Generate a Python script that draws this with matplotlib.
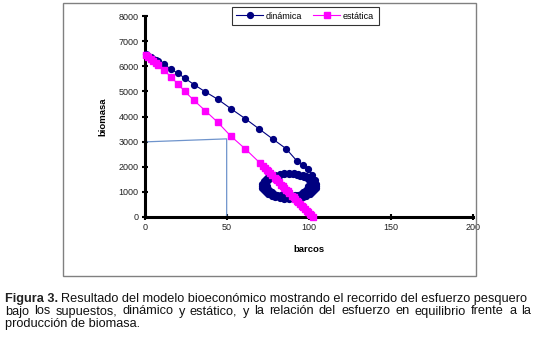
import matplotlib
matplotlib.use("Agg")
import matplotlib.pyplot as plt
from matplotlib.patches import Rectangle

plt.rcParams['font.family'] = ['Liberation Sans', 'DejaVu Sans']

# recorrido dinamico (barcos, biomasa)
din_barcos = [0.5, 2.0, 3.5, 5.0, 6.5, 8.1, 11.6, 15.9, 20.1, 24.4, 29.9, 36.6, 44.5, 52.4,
              61.0, 69.5, 78.0, 86.0, 92.5, 96.3, 99.4, 101.8, 103.7,
              # primera vuelta
              104.3, 104.05, 103.31, 102.09, 100.44, 98.41, 96.05, 93.44, 90.67, 87.8,
              84.93, 82.16, 79.55, 77.19, 75.16, 73.51, 72.29, 71.55, 71.3,
              71.55, 72.29, 73.51, 75.16, 77.19, 79.55, 82.16, 84.93, 87.8,
              90.67, 93.44, 96.05, 98.41, 100.44, 102.09, 103.31, 104.05,
              # segunda vuelta
              102.0, 101.78, 101.13, 100.06, 98.61, 96.82, 94.75, 92.46, 90.02, 87.5,
              84.98, 82.54, 80.25, 78.18, 76.39, 74.94, 73.87, 73.22, 73.0,
              73.22, 73.87, 74.94, 76.39, 78.18, 80.25, 82.54, 84.98, 87.5,
              90.02, 92.46, 94.75, 96.82, 98.61, 100.06, 101.13, 101.78,
              # tercera (media) vuelta
              99.5, 99.31, 98.75, 97.83, 96.58, 95.04, 93.25, 91.28, 89.17, 87.0,
              84.83, 82.72, 80.75, 78.96, 77.42, 76.17, 75.25, 74.69, 74.5]
din_biomasa = [6470, 6420, 6360, 6300, 6240, 6190, 6080, 5880, 5720, 5520, 5270, 4990, 4680, 4310,
               3920, 3510, 3100, 2720, 2240, 2080, 1920, 1680, 1480,
               1240, 1150, 1062, 980, 906, 842, 790, 751, 728, 720,
               728, 751, 790, 842, 906, 980, 1062, 1150, 1240,
               1330, 1418, 1500, 1574, 1638, 1690, 1729, 1752, 1760,
               1752, 1729, 1690, 1638, 1574, 1500, 1418, 1330,
               1240, 1160, 1083, 1010, 944, 888, 842, 808, 787, 780,
               787, 808, 842, 888, 944, 1010, 1083, 1160, 1240,
               1320, 1397, 1470, 1536, 1592, 1638, 1672, 1693, 1700,
               1693, 1672, 1638, 1592, 1536, 1470, 1397, 1320,
               1240, 1170, 1103, 1040, 983, 934, 894, 864, 846, 840,
               846, 864, 894, 934, 983, 1040, 1103, 1170, 1240]

# equilibrio estatico
est_barcos = [0.5, 2.0, 3.5, 5.0, 6.5, 8.1, 11.6, 15.7, 20.0, 24.2, 29.9, 36.8, 44.3, 52.2,
              61.2, 70.1, 72.0, 73.3, 74.4, 75.1, 76.3, 77.5, 79.0, 79.6, 80.5, 81.5, 83.0,
              84.1, 85.0, 86.0, 87.0, 88.0, 89.6, 90.6, 91.7, 92.5, 93.3, 94.5, 95.7, 96.5,
              97.6, 98.7, 99.4, 100.5, 101.5, 102.5]
est_biomasa = [6450, 6380, 6300, 6220, 6130, 6040, 5860, 5570, 5307, 5000, 4640, 4227, 3773, 3227,
               2707, 2150, 2020, 1935, 1860, 1815, 1735, 1655, 1555, 1515, 1455, 1390, 1290,
               1215, 1155, 1090, 1025, 955, 850, 785, 710, 655, 605, 525, 445, 390,
               320, 250, 205, 130, 65, 0]

# linea de referencia (esfuerzo 50 barcos)
ref_barcos = [0, 49.8, 49.8]
ref_biomasa = [2990, 3110, 0]

fig = plt.figure(figsize=(5.36, 3.39), dpi=100)
fig.patches.append(Rectangle((63 / 536, 1 - 276 / 339), 413 / 536, 273 / 339,
                             transform=fig.transFigure, fill=False,
                             edgecolor='#808080', linewidth=1.0))

ax = fig.add_axes([145 / 536, 1 - 217 / 339, 328 / 536, 201 / 339])
ax.plot(ref_barcos, ref_biomasa, color='#6f94cc', linewidth=0.9, zorder=2)
ax.plot(din_barcos, din_biomasa, color='#000080', marker='o', markersize=4.2,
        linewidth=0.8, label='dinámica', clip_on=False, zorder=3)
ax.plot(est_barcos, est_biomasa, color='#ff00ff', marker='s', markersize=4.6,
        linewidth=0.8, label='estática', clip_on=False, zorder=4)

ax.set_xlim(0, 200)
ax.set_ylim(0, 8000)
ax.set_xticks([0, 50, 100, 150, 200])
ax.set_yticks(range(0, 8001, 1000))
for s in ['top', 'right']:
    ax.spines[s].set_visible(False)
for s in ['left', 'bottom']:
    ax.spines[s].set_linewidth(2.2)
ax.tick_params(direction='inout', length=5, width=1.5, labelsize=6.5,
               labelcolor='#222222', pad=2)
ax.set_xlabel('barcos', fontsize=6.8, fontweight='bold', labelpad=9)
ax.set_ylabel('biomasa', fontsize=6.8, fontweight='bold', labelpad=8)

leg = ax.legend(loc='upper left', bbox_to_anchor=(231.7 / 536, 1 - 7 / 339),
                bbox_transform=fig.transFigure, ncol=2, fontsize=6.5, frameon=True,
                fancybox=False, borderaxespad=0, handlelength=3.0, columnspacing=1.2,
                handletextpad=0.3, borderpad=0.5)
leg.get_frame().set_edgecolor('black')
leg.get_frame().set_linewidth(0.8)

# pie de figura
fs = 9.2
r = fig.canvas.get_renderer()
t = fig.text(5 / 536, 1 - 302 / 339, 'Figura 3.', fontsize=fs, fontweight='bold',
             va='baseline', color='#222222')
bb = t.get_window_extent(r)
fig.text(bb.x1 / 536 + 3 / 536, 1 - 302 / 339,
         'Resultado del modelo bioeconómico mostrando el recorrido del esfuerzo pesquero',
         fontsize=fs, va='baseline', color='#111111')

# segunda linea justificada
words = 'bajo los supuestos, dinámico y estático, y la relación del esfuerzo en equilibrio frente a la'.split()
objs = [fig.text(0, 1 - 314.5 / 339, w, fontsize=fs, va='baseline', color='#111111') for w in words]
widths = [o.get_window_extent(r).width for o in objs]
gap = (531 - 5 - sum(widths)) / (len(words) - 1)
xpos = 5
for o, w in zip(objs, widths):
    o.set_x(xpos / 536)
    xpos += w + gap

fig.text(5 / 536, 1 - 327 / 339, 'producción de biomasa.', fontsize=fs, va='baseline',
         color='#111111')

fig.savefig('out.png', dpi=100)
